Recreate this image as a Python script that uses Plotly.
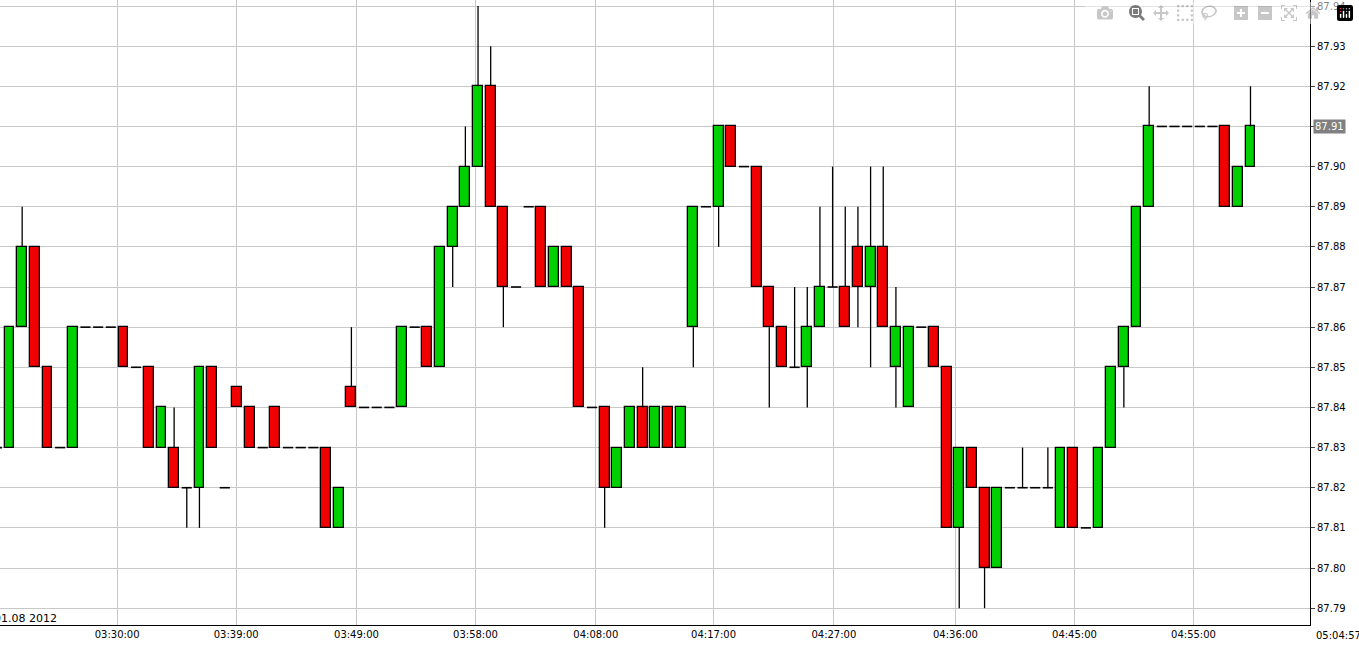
import plotly.graph_objects as go

# one-minute candles, oldest first
opens  = [87.83,87.83,87.86,87.88,87.85,87.83,87.83,87.86,87.86,87.86,87.86,87.85,87.85,87.83,87.83,87.82,87.82,87.85,87.82,87.845,
          87.84,87.83,87.84,87.83,87.83,87.83,87.83,87.81,87.845,87.84,87.84,87.84,87.84,87.86,87.86,87.85,87.88,87.89,87.90,87.92,
          87.89,87.87,87.89,87.89,87.87,87.88,87.87,87.84,87.84,87.82,87.83,87.84,87.83,87.84,87.83,87.86,87.89,87.89,87.91,87.90,
          87.90,87.87,87.86,87.85,87.85,87.86,87.87,87.87,87.88,87.87,87.88,87.85,87.84,87.86,87.86,87.85,87.81,87.83,87.82,87.80,
          87.82,87.82,87.82,87.82,87.81,87.83,87.81,87.81,87.83,87.85,87.86,87.89,87.91,87.91,87.91,87.91,87.91,87.91,87.89,87.90]
closes = [87.83,87.86,87.88,87.85,87.83,87.83,87.86,87.86,87.86,87.86,87.85,87.85,87.83,87.84,87.82,87.82,87.85,87.83,87.82,87.84,
          87.83,87.83,87.83,87.83,87.83,87.83,87.81,87.82,87.84,87.84,87.84,87.84,87.86,87.86,87.85,87.88,87.89,87.90,87.92,87.89,
          87.87,87.87,87.89,87.87,87.88,87.87,87.84,87.84,87.82,87.83,87.84,87.83,87.84,87.83,87.84,87.89,87.89,87.91,87.90,87.90,
          87.87,87.86,87.85,87.85,87.86,87.87,87.87,87.86,87.87,87.88,87.86,87.86,87.86,87.86,87.85,87.81,87.83,87.82,87.80,87.82,
          87.82,87.82,87.82,87.82,87.83,87.81,87.81,87.83,87.85,87.86,87.89,87.91,87.91,87.91,87.91,87.91,87.91,87.89,87.90,87.91]
highs  = [87.83,87.86,87.89,87.88,87.85,87.83,87.86,87.86,87.86,87.86,87.86,87.85,87.85,87.84,87.84,87.82,87.85,87.85,87.82,87.845,
          87.84,87.83,87.84,87.83,87.83,87.83,87.83,87.82,87.86,87.84,87.84,87.84,87.86,87.86,87.86,87.88,87.89,87.91,87.94,87.93,
          87.89,87.87,87.89,87.89,87.88,87.88,87.87,87.84,87.84,87.83,87.84,87.85,87.84,87.84,87.84,87.89,87.89,87.91,87.91,87.90,
          87.90,87.87,87.86,87.87,87.87,87.89,87.90,87.89,87.89,87.90,87.90,87.87,87.86,87.86,87.86,87.85,87.83,87.83,87.82,87.82,
          87.82,87.83,87.82,87.83,87.83,87.83,87.81,87.83,87.85,87.86,87.89,87.92,87.91,87.91,87.91,87.91,87.91,87.91,87.90,87.92]
lows   = [87.82,87.83,87.86,87.85,87.83,87.83,87.83,87.86,87.86,87.86,87.85,87.85,87.83,87.83,87.82,87.81,87.81,87.83,87.82,87.84,
          87.83,87.83,87.83,87.83,87.83,87.83,87.81,87.81,87.84,87.84,87.84,87.84,87.84,87.86,87.85,87.85,87.87,87.89,87.90,87.89,
          87.86,87.87,87.89,87.87,87.87,87.87,87.84,87.84,87.81,87.82,87.83,87.83,87.83,87.83,87.83,87.85,87.89,87.88,87.90,87.90,
          87.87,87.84,87.85,87.85,87.84,87.86,87.87,87.86,87.86,87.85,87.86,87.84,87.84,87.86,87.85,87.81,87.79,87.82,87.79,87.80,
          87.82,87.82,87.82,87.82,87.81,87.81,87.81,87.81,87.83,87.84,87.86,87.89,87.91,87.91,87.91,87.91,87.91,87.89,87.89,87.90]

tick_pos = [0.3, 9.5, 18.9, 28.4, 37.8, 47.3, 56.6, 66.1, 75.7, 85.1, 94.5]
tick_txt = ["03:21:00", "03:30:00", "03:39:00", "03:49:00", "03:58:00", "04:08:00",
            "04:17:00", "04:27:00", "04:36:00", "04:45:00", "04:55:00"]
y_ticks = [87.79, 87.80, 87.81, 87.82, 87.83, 87.84, 87.85, 87.86, 87.87, 87.88, 87.89,
           87.90, 87.91, 87.92, 87.93, 87.94]
last_price = 87.91

GREEN, RED = "#00d000", "#f00000"
n = len(opens)
xs = list(range(n))

fig = go.Figure()
# wicks (only the parts outside the bodies, since bars render below lines)
wx, wy = [], []
for i in xs:
    lo, hi = min(opens[i], closes[i]), max(opens[i], closes[i])
    if lows[i] < lo:
        wx += [i, i, None]; wy += [lows[i], lo, None]
    if highs[i] > hi:
        wx += [i, i, None]; wy += [hi, highs[i], None]
fig.add_trace(go.Scatter(x=wx, y=wy, mode="lines", line=dict(color="black", width=1.3),
                         hoverinfo="skip", showlegend=False))
# bodies
body = [i for i in xs if abs(closes[i] - opens[i]) > 1e-9]
fig.add_trace(go.Bar(x=body, y=[abs(closes[i] - opens[i]) for i in body],
                     base=[min(opens[i], closes[i]) for i in body], width=0.78,
                     marker=dict(color=[GREEN if closes[i] > opens[i] else RED for i in body],
                                 line=dict(color="black", width=1.3)),
                     showlegend=False))
# doji dashes
dx, dy = [], []
for i in xs:
    if abs(closes[i] - opens[i]) <= 1e-9:
        dx += [i - 0.4, i + 0.4, None]; dy += [opens[i], opens[i], None]
fig.add_trace(go.Scatter(x=dx, y=dy, mode="lines", line=dict(color="black", width=1.6),
                         hoverinfo="skip", showlegend=False))

fig.add_annotation(x=0, y=0, xref="paper", yref="paper", text="01.08 2012", showarrow=False,
                   xanchor="left", yanchor="bottom", xshift=-8, yshift=-2,
                   font=dict(size=11, color="black"))
fig.add_annotation(x=1, y=last_price, xref="paper", yref="y", text="87.91", showarrow=False,
                   xanchor="left", xshift=3, bgcolor="#808080", font=dict(size=10, color="white"),
                   borderpad=1)
fig.add_annotation(x=1.0, y=0, xref="paper", yref="paper", text="05:04:57", showarrow=False,
                   xanchor="left", yanchor="top", yshift=-3, xshift=4,
                   font=dict(size=10, color="black"))

fig.update_layout(
    width=1359, height=645, margin=dict(l=0, r=49, t=0, b=20),
    plot_bgcolor="white", paper_bgcolor="white", bargap=0,
    font=dict(family="DejaVu Sans", size=10, color="black"),
    xaxis=dict(range=[0.25, 103.7], tickvals=tick_pos, ticktext=tick_txt,
               showgrid=True, gridcolor="#c8c8c8", zeroline=False,
               showline=True, linecolor="black", ticks="", ticklen=0),
    yaxis=dict(range=[87.7858, 87.9415], side="right", tickvals=y_ticks,
               tickformat=".2f", showgrid=True, gridcolor="#c8c8c8", zeroline=False,
               showline=True, linecolor="black", ticks="outside", ticklen=4),
)
fig.write_html("out.html", post_script="document.body.style.margin='0';")
